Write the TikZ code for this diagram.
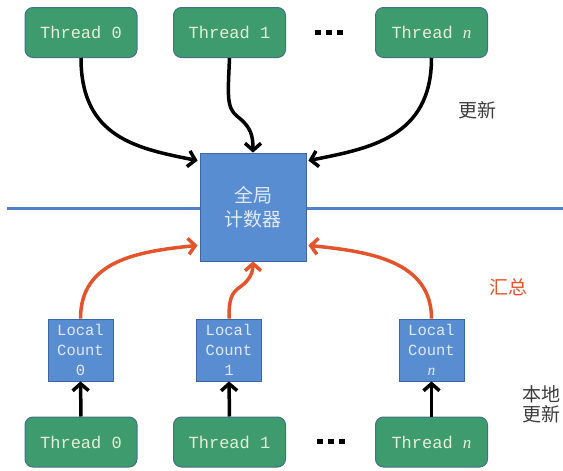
\documentclass[tikz,border=0pt]{standalone}
\usepackage{fontspec}
\setmonofont{Liberation Mono}
\newfontfamily\cjk{Noto Sans CJK SC}
\newfontfamily\serifit{Liberation Serif}
\usetikzlibrary{arrows.meta,calc}

\definecolor{thrfill}{RGB}{62,155,110}
\definecolor{thrline}{RGB}{66,112,138}
\definecolor{thrtext}{RGB}{228,240,214}
\definecolor{cntfill}{RGB}{88,141,210}
\definecolor{cntline}{RGB}{62,102,160}
\definecolor{cnttext}{RGB}{226,233,246}
\definecolor{sumred}{RGB}{228,84,44}
\definecolor{lbltext}{RGB}{60,60,60}
\definecolor{sepline}{RGB}{80,130,200}

\tikzset{
  thread/.style={draw=thrline, line width=1pt, fill=thrfill, rounded corners=8pt,
    minimum width=112pt, minimum height=50pt, inner sep=0pt, text=thrtext,
    font=\ttfamily\fontsize{17}{19}\selectfont},
  globalbox/.style={draw=cntline, line width=0.8pt, fill=cntfill,
    minimum width=106pt, minimum height=108pt, inner sep=0pt, text=cnttext,
    font=\cjk\fontsize{19}{24}\selectfont, align=center},
  localbox/.style={draw=cntline, line width=0.8pt, fill=cntfill,
    minimum width=65pt, minimum height=62pt, inner sep=0pt, text=cnttext,
    font=\ttfamily\fontsize{15.5}{20}\selectfont, align=center},
  upd/.style={line width=3.5pt, draw=black, -{Straight Barb[length=7pt,width=16pt]}},
  agg/.style={upd, draw=sumred},
  lbl/.style={font=\cjk\fontsize{19}{20}\selectfont, text=lbltext, align=center, inner sep=0pt},
  dotsq/.style={fill=black}
}

\newcommand{\itn}{{\serifit\itshape n}}

\begin{document}
\begin{tikzpicture}[x=1pt, y=-1pt]
  \useasboundingbox (0,0) rectangle (563,471);

  % separator between the global and the local layer
  \draw[sepline, line width=3pt] (7,208) -- (563,208);

  % worker threads, top row
  \node[thread] (t0) at (81,32.5) {Thread 0};
  \node[thread] (t1) at (229.5,32.5) {Thread 1};
  \node[thread] (tn) at (431.5,32.5) {Thread \itn};
  \foreach \x in {315,326,337} \fill[dotsq] (\x,29.5) rectangle +(5.5,5.5);

  % shared counter
  \node[globalbox] (g) at (253,207) {全局\\计数器};

  % per-thread counters
  \node[localbox] (l0) at (80.5,350) {Local\\Count\\0};
  \node[localbox] (l1) at (229,350) {Local\\Count\\1};
  \node[localbox] (ln) at (431.5,350) {Local\\Count\\\itn};

  % worker threads, bottom row
  \node[thread] (b0) at (81,442) {Thread 0};
  \node[thread] (b1) at (229.5,442) {Thread 1};
  \node[thread] (bn) at (431.5,442) {Thread \itn};
  \foreach \x in {317,328,339} \fill[dotsq] (\x,438.5) rectangle +(5.5,5.5);

  % direct updates of the shared counter
  \draw[upd] (t0.south) .. controls +(0,80) and +(-60,-12) .. ($(g.north west)+(-2,8)$);
  \draw[upd] (t1.south) .. controls (228,95) and (226,108) .. (238,117)
                        .. controls (251,127) and (253,136) .. (g.north);
  \draw[upd] (tn.south) .. controls +(0,80) and +(60,-12) .. ($(g.north east)+(2,8)$);

  % summing local counts into the shared counter
  \draw[agg] (l0.north) .. controls +(0,-58) and +(-60,6) .. ($(g.south west)+(-2,-16)$);
  \draw[agg] (l1.north) .. controls (229,300) and (231,293) .. (240,287)
                        .. controls (250,280) and (253,272) .. (g.south);
  \draw[agg] (ln.north) .. controls +(0,-58) and +(60,6) .. ($(g.south east)+(2,-16)$);

  % local updates
  \draw[upd] (b0.north) -- (l0.south);
  \draw[upd] (b1.north) -- (l1.south);
  \draw[upd] (bn.north) -- (ln.south);

  % labels
  \node[lbl] (lupd) at (477,110) {更新};
  \node[lbl, text=sumred] (lsum) at (508,287) {汇总};
  \node[lbl] (lloc) at (541,404) {本地\\更新};
\end{tikzpicture}
\end{document}
